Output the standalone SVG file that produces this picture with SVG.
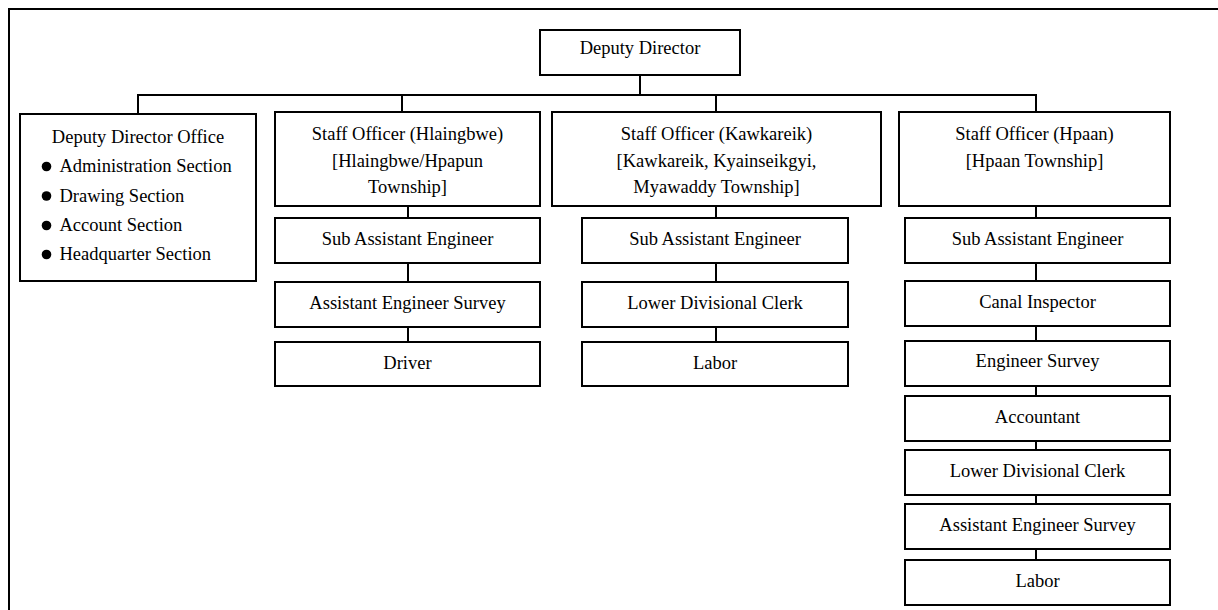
<svg xmlns="http://www.w3.org/2000/svg" width="1218" height="610" viewBox="0 0 1218 610">
  <style>
    .box { fill: #ffffff; stroke: #000000; stroke-width: 2; }
    .lbl { font-family: "Liberation Serif", "Times New Roman", serif; font-size: 18.5px; fill: #000000; text-anchor: middle; }
    .lft { text-anchor: start; }
    .wire { stroke: #000000; stroke-width: 2; fill: none; }
    .frame { stroke: #000000; stroke-width: 2; fill: none; }
  </style>
  <rect x="0" y="0" width="1218" height="610" fill="#ffffff"/>

  <!-- page frame (top and left edges) -->
  <path class="frame" d="M9 610 V9 H1218"/>

  <!-- connectors -->
  <g id="connectors">
    <path class="wire" d="M640 75 V95" stroke-width="3"/>
    <path class="wire" d="M138 114 V95 H640" stroke-width="2.6"/>
    <path class="wire" d="M640 95 H1036 V112"/>
    <path class="wire" d="M402 95 V112"/>
    <path class="wire" d="M716 95 V112"/>
    <!-- Hlaingbwe column -->
    <path class="wire" d="M408 206 V218 M408 263 V282 M408 327 V342"/>
    <!-- Kawkareik column -->
    <path class="wire" d="M716 206 V218 M716 263 V282 M716 327 V342"/>
    <!-- Hpaan column -->
    <path class="wire" d="M1036 206 V218 M1036 263 V281 M1036 326 V341 M1036 386 V396 M1036 441 V450 M1036 495 V504 M1036 549 V560"/>
  </g>

  <g id="deputy-director">
    <rect class="box" x="540" y="30" width="200" height="45"/>
    <text class="lbl" x="640" y="53.5">Deputy Director</text>
  </g>

  <g id="deputy-director-office">
    <rect class="box" x="20" y="114" width="236" height="167"/>
    <text class="lbl" x="138" y="143">Deputy Director Office</text>
    <circle cx="46.5" cy="166.5" r="4.8"/>
    <text class="lbl lft" x="59.5" y="172">Administration Section</text>
    <circle cx="46.5" cy="196" r="4.8"/>
    <text class="lbl lft" x="59.5" y="201.5">Drawing Section</text>
    <circle cx="46.5" cy="225.5" r="4.8"/>
    <text class="lbl lft" x="59.5" y="231">Account Section</text>
    <circle cx="46.5" cy="254.5" r="4.8"/>
    <text class="lbl lft" x="59.5" y="260">Headquarter Section</text>
  </g>

  <!-- Hlaingbwe column -->
  <g id="so-hlaingbwe">
    <rect class="box" x="275" y="112" width="265" height="94"/>
    <text class="lbl" x="407.5" y="140">Staff Officer (Hlaingbwe)</text>
    <text class="lbl" x="407.5" y="166.5">[Hlaingbwe/Hpapun</text>
    <text class="lbl" x="407.5" y="193">Township]</text>
  </g>
  <g id="h-sub-assistant-engineer">
    <rect class="box" x="275" y="218" width="265" height="45"/>
    <text class="lbl" x="407.5" y="245">Sub Assistant Engineer</text>
  </g>
  <g id="h-assistant-engineer-survey">
    <rect class="box" x="275" y="282" width="265" height="45"/>
    <text class="lbl" x="407.5" y="309">Assistant Engineer Survey</text>
  </g>
  <g id="h-driver">
    <rect class="box" x="275" y="342" width="265" height="44"/>
    <text class="lbl" x="407.5" y="368.5">Driver</text>
  </g>

  <!-- Kawkareik column -->
  <g id="so-kawkareik">
    <rect class="box" x="552" y="112" width="329" height="94"/>
    <text class="lbl" x="716.5" y="140">Staff Officer (Kawkareik)</text>
    <text class="lbl" x="716.5" y="166.5">[Kawkareik, Kyainseikgyi,</text>
    <text class="lbl" x="716.5" y="193">Myawaddy Township]</text>
  </g>
  <g id="k-sub-assistant-engineer">
    <rect class="box" x="582" y="218" width="266" height="45"/>
    <text class="lbl" x="715" y="245">Sub Assistant Engineer</text>
  </g>
  <g id="k-lower-divisional-clerk">
    <rect class="box" x="582" y="282" width="266" height="45"/>
    <text class="lbl" x="715" y="309">Lower Divisional Clerk</text>
  </g>
  <g id="k-labor">
    <rect class="box" x="582" y="342" width="266" height="44"/>
    <text class="lbl" x="715" y="368.5">Labor</text>
  </g>

  <!-- Hpaan column -->
  <g id="so-hpaan">
    <rect class="box" x="899" y="112" width="271" height="94"/>
    <text class="lbl" x="1034.5" y="140">Staff Officer (Hpaan)</text>
    <text class="lbl" x="1034.5" y="166.5">[Hpaan Township]</text>
  </g>
  <g id="p-sub-assistant-engineer">
    <rect class="box" x="905" y="218" width="265" height="45"/>
    <text class="lbl" x="1037.5" y="245">Sub Assistant Engineer</text>
  </g>
  <g id="p-canal-inspector">
    <rect class="box" x="905" y="281" width="265" height="45"/>
    <text class="lbl" x="1037.5" y="308">Canal Inspector</text>
  </g>
  <g id="p-engineer-survey">
    <rect class="box" x="905" y="341" width="265" height="45"/>
    <text class="lbl" x="1037.5" y="367">Engineer Survey</text>
  </g>
  <g id="p-accountant">
    <rect class="box" x="905" y="396" width="265" height="45"/>
    <text class="lbl" x="1037.5" y="423">Accountant</text>
  </g>
  <g id="p-lower-divisional-clerk">
    <rect class="box" x="905" y="450" width="265" height="45"/>
    <text class="lbl" x="1037.5" y="477">Lower Divisional Clerk</text>
  </g>
  <g id="p-assistant-engineer-survey">
    <rect class="box" x="905" y="504" width="265" height="45"/>
    <text class="lbl" x="1037.5" y="530.5">Assistant Engineer Survey</text>
  </g>
  <g id="p-labor">
    <rect class="box" x="905" y="560" width="265" height="45"/>
    <text class="lbl" x="1037.5" y="587">Labor</text>
  </g>
</svg>
